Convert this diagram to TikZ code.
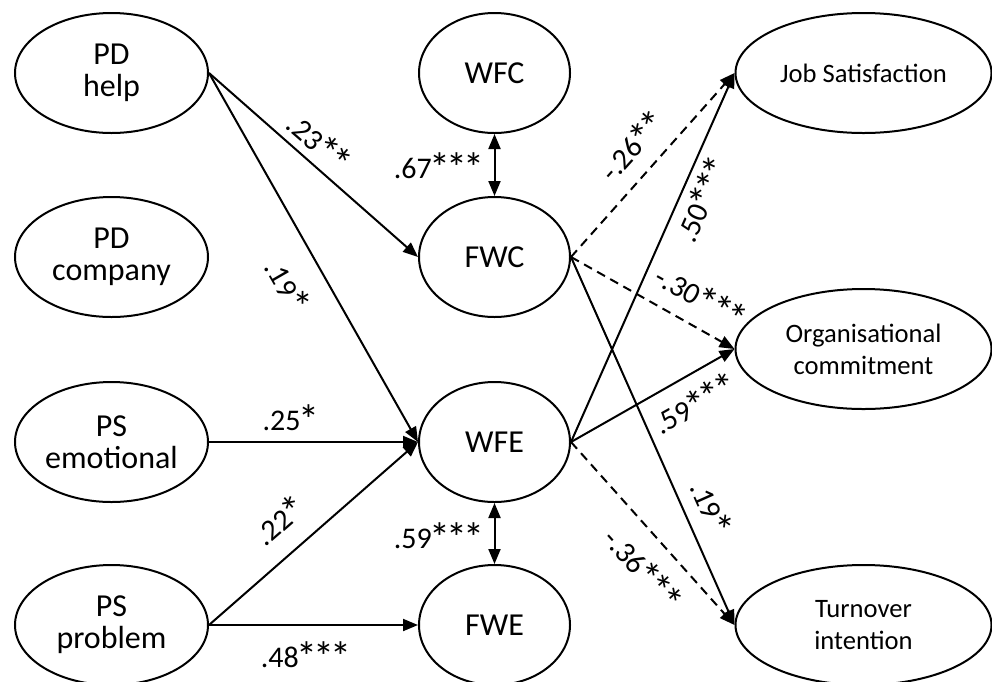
\documentclass[tikz,border=0pt]{standalone}
\usepackage{graphicx}
\usepackage{fontspec}
\setmainfont{Carlito}
\usetikzlibrary{arrows.meta,shapes.geometric}
\newcommand\sigst{\kern-0.07em\raisebox{-0.16em}{\scalebox{1.4}{*}}\kern-0.07em}
\begin{document}
\begin{tikzpicture}[x=1pt,y=-1pt,
  lat/.style={ellipse,draw,line width=2pt,inner sep=0pt,align=center,
    font=\fontsize{32}{32}\selectfont,minimum height=120pt},
  lft/.style={lat,minimum width=193pt},
  mid/.style={lat,minimum width=151pt},
  rgt/.style={lat,minimum width=256pt,font=\fontsize{26.6}{32}\selectfont},
  arr/.style={line width=2pt,-{Triangle[length=15pt,width=12pt]}},
  cov/.style={line width=2pt,{Triangle[length=15pt,width=12pt]}-{Triangle[length=15pt,width=12pt]}},
  neg/.style={arr,dash pattern=on 9pt off 6pt},
  coef/.style={font=\fontsize{30}{30}\selectfont,inner sep=0pt}
]
\useasboundingbox (0,0) rectangle (992,681);

% left column
\node[lft] (PDh) at (111.5,73)  {PD\\help};
\node[lft] (PDc) at (111.5,257) {PD\\company};
\node[lft] (PSe) at (111.5,442) {PS\\emotional};
\node[lft] (PSp) at (111.5,625) {PS\\problem};

% middle column
\node[mid] (WFC) at (494.5,73)  {WFC};
\node[mid] (FWC) at (494.5,257) {FWC};
\node[mid] (WFE) at (494.5,442) {WFE};
\node[mid] (FWE) at (494.5,625) {FWE};

% right column
\node[rgt] (JS) at (863.5,73)  {Job Satisfaction};
\node[rgt] (OC) at (863.5,349) {Organisational\\commitment};
\node[rgt] (TI) at (863.5,625) {Turnover\\intention};

% paths
\draw[arr] (PDh.east) -- (FWC.west);
\draw[arr] (PDh.east) -- (WFE.west);
\draw[arr] (PSe.east) -- (WFE.west);
\draw[arr] (PSp.east) -- (WFE.west);
\draw[arr] (PSp.east) -- (FWE.west);
\draw[cov] (WFC.south) -- (FWC.north);
\draw[cov] (WFE.south) -- (FWE.north);
\draw[neg] (FWC.east) -- (JS.west);
\draw[neg] (FWC.east) -- (OC.west);
\draw[arr] (FWC.east) -- (TI.west);
\draw[arr] (WFE.east) -- (JS.west);
\draw[arr] (WFE.east) -- (OC.west);
\draw[neg] (WFE.east) -- (TI.west);

% coefficients
\node[coef,rotate=-41] (c1) at (318,143) {.23\sigst\sigst};
\node[coef,rotate=-60] (c2) at (286,286) {.19\sigst};
\node[coef] (c3) at (290,420) {.25\sigst};
\node[coef,rotate=41] (c4) at (280,522) {.22\sigst};
\node[coef] (c5) at (305,657) {.48\sigst\sigst\sigst};
\node[coef] (c6) at (438,168) {.67\sigst\sigst\sigst};
\node[coef] (c7) at (438,538) {.59\sigst\sigst\sigst};
\node[coef,rotate=48] (c8) at (633,147) {-.26\sigst\sigst};
\node[coef,rotate=-29] (c9) at (700,298) {-.30\sigst\sigst\sigst};
\node[coef,rotate=-66] (c10) at (710,508) {.19\sigst};
\node[coef,rotate=66] (c11) at (703,200) {.50\sigst\sigst\sigst};
\node[coef,rotate=29] (c12) at (695,405) {.59\sigst\sigst\sigst};
\node[coef,rotate=-48] (c13) at (642,570) {-.36\sigst\sigst\sigst};
\end{tikzpicture}
\end{document}
